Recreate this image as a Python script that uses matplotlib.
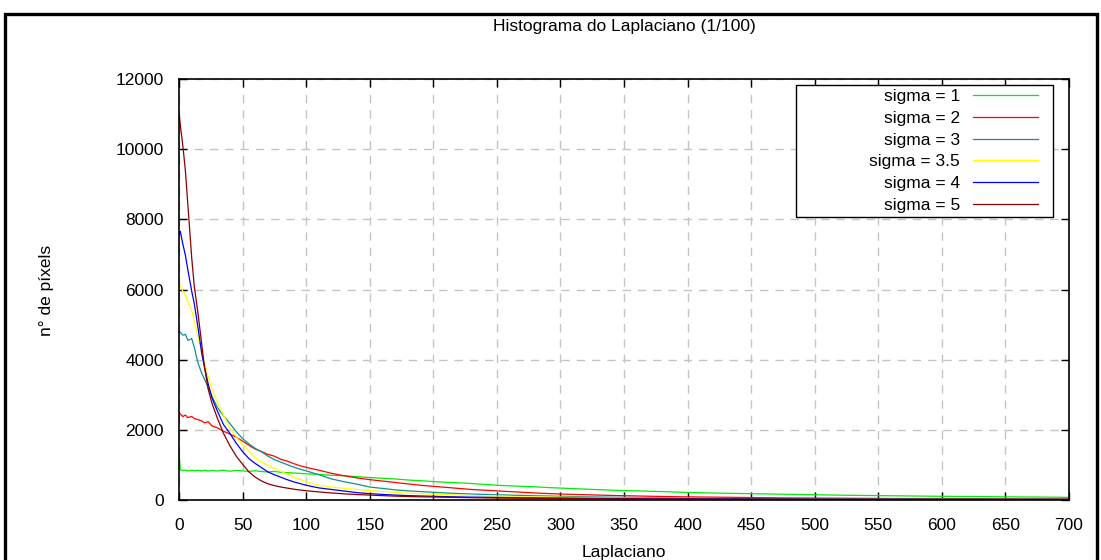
import matplotlib
matplotlib.use("Agg")
import matplotlib.pyplot as plt
from matplotlib.patches import Rectangle

# ──────────────────────────────────────────────
# Data
# ──────────────────────────────────────────────

laplaciano = [0, 1, 3, 5, 7, 10, 12, 15, 18, 20,
              23, 26, 30, 35, 40, 45, 50, 55, 60, 65,
              70, 75, 80, 85, 90, 95, 100, 110, 120, 130,
              140, 150, 160, 170, 180, 190, 200, 210, 220, 230,
              240, 250, 260, 270, 280, 290, 300, 320, 340, 360,
              380, 400, 425, 450, 475, 500, 525, 550, 575, 600,
              625, 650, 675, 700]

sigma_1 = [1400, 860, 840, 855, 830, 850, 835, 845, 830, 850,
           825, 840, 830, 850, 820, 845, 830, 815, 835, 810,
           800, 815, 790, 780, 770, 760, 745, 730, 705, 690,
           665, 640, 620, 600, 570, 550, 525, 505, 490, 470,
           445, 420, 405, 390, 375, 355, 340, 310, 280, 260,
           240, 215, 195, 180, 165, 150, 135, 125, 115, 105,
           100, 90, 85, 75]

sigma_2 = [2500, 2450, 2380, 2420, 2350, 2380, 2320, 2290, 2250, 2200,
           2230, 2110, 2060, 1960, 1880, 1790, 1680, 1560, 1450, 1380,
           1300, 1250, 1160, 1110, 1040, 980, 930, 850, 760, 690,
           630, 580, 540, 500, 460, 420, 390, 360, 330, 300,
           280, 260, 240, 220, 200, 185, 170, 150, 130, 115,
           100, 90, 80, 70, 60, 55, 50, 45, 40, 38,
           35, 32, 30, 28]

sigma_3 = [4800, 4780, 4700, 4720, 4550, 4600, 4350, 3900, 3600, 3450,
           3200, 2950, 2650, 2400, 2180, 1950, 1750, 1600, 1470, 1370,
           1250, 1150, 1080, 1010, 940, 880, 830, 720, 600, 520,
           450, 370, 330, 290, 260, 240, 220, 200, 185, 170,
           160, 150, 140, 130, 120, 115, 105, 90, 80, 70,
           60, 55, 50, 45, 40, 35, 32, 30, 28, 25,
           24, 22, 20, 18]

sigma_35 = [6150, 6100, 5950, 5850, 5650, 5400, 5100, 4650, 4200, 3900,
            3500, 3150, 2800, 2420, 2050, 1800, 1580, 1380, 1200, 1080,
            990, 900, 820, 740, 660, 590, 520, 420, 370, 330,
            300, 270, 240, 215, 195, 180, 165, 150, 140, 130,
            120, 110, 100, 95, 90, 85, 80, 70, 62, 55,
            50, 45, 40, 36, 33, 30, 28, 26, 24, 22,
            20, 19, 18, 16]

sigma_4 = [7550, 7660, 7300, 6980, 6550, 5950, 5600, 4900, 4150, 3800,
           3300, 2900, 2550, 2150, 1900, 1620, 1380, 1180, 1040, 920,
           800, 720, 650, 580, 520, 470, 420, 345, 300, 255,
           210, 180, 160, 140, 125, 115, 105, 95, 88, 82,
           78, 72, 68, 64, 60, 57, 55, 50, 46, 42,
           40, 37, 34, 32, 30, 28, 26, 25, 24, 22,
           21, 20, 19, 18]

sigma_5 = [11050, 10700, 10100, 9400, 8400, 6900, 6100, 5300, 4400, 3800,
           3150, 2750, 2350, 1900, 1550, 1250, 1020, 800, 650, 540,
           460, 410, 370, 340, 310, 285, 265, 230, 200, 175,
           155, 140, 125, 110, 100, 90, 85, 78, 72, 66,
           60, 56, 52, 50, 47, 45, 42, 38, 35, 32,
           30, 28, 26, 25, 24, 23, 22, 21, 20, 19,
           18, 17, 16, 15]

labels = ["sigma = 1", "sigma = 2", "sigma = 3", "sigma = 3.5", "sigma = 4", "sigma = 5"]
colors = ["#00ee00", "#ff0000", "#138f8f", "#ffff00", "#0000ff", "#8b0000"]
series = [sigma_1, sigma_2, sigma_3, sigma_35, sigma_4, sigma_5]

xticks = list(range(0, 701, 50))
yticks = list(range(0, 12001, 2000))

# ──────────────────────────────────────────────
# Figure
# ──────────────────────────────────────────────

plt.rcParams["font.family"] = ["Liberation Sans", "DejaVu Sans"]
FS = 12.5

W, H = 1101, 560
fig = plt.figure(figsize=(W / 100, H / 100), dpi=100)
fig.patch.set_facecolor("white")

# thick outer frame
fig.patches.append(Rectangle((4.5 / W, -0.2), (1096.5 - 4.5) / W, 1.2 - 13.5 / H,
                             transform=fig.transFigure, fill=False,
                             edgecolor="black", linewidth=2.4, clip_on=False))

ax = fig.add_axes([179 / W, (H - 500) / H, 890 / W, 421 / H])

for y, lab, col in zip(series, labels, colors):
    ax.plot(laplaciano, y, color=col, linewidth=0.9, label=lab)

ax.set_xlim(0, 700)
ax.set_ylim(0, 12000)
ax.set_xticks(xticks)
ax.set_yticks(yticks)
ax.tick_params(direction="in", length=6, width=1, top=True, right=True,
               labelsize=FS, pad=11)
ax.tick_params(axis="x", pad=13)
ax.grid(True, color="#c4c4c4", linestyle=(0, (6, 5)), linewidth=1)
ax.set_axisbelow(True)
for sp in ax.spines.values():
    sp.set_linewidth(1.2)

fig.text(624 / W, 1 - 27 / H, "Histograma do Laplaciano (1/100)",
         ha="center", va="center", fontsize=FS)
fig.text(624 / W, 1 - 553 / H, "Laplaciano", ha="center", va="center", fontsize=FS)
fig.text(47 / W, 1 - 290 / H, "n° de píxels", ha="center", va="center",
         rotation=90, fontsize=FS)

# legend: gnuplot-style box, wider than its entries
ax.add_patch(Rectangle((796 / W, 1 - 217 / H), (1053 - 796) / W, (217 - 85) / H,
                       transform=fig.transFigure, facecolor="white",
                       edgecolor="black", linewidth=1.0, zorder=5, clip_on=False))
leg = ax.legend(loc="upper right", bbox_to_anchor=(1038 / W, 1 - 89 / H),
                bbox_transform=fig.transFigure, borderaxespad=0, borderpad=0,
                markerfirst=False, frameon=False,
                fontsize=FS, handlelength=3.75, handletextpad=0.75,
                labelspacing=0.38)
leg.set_zorder(6)

fig.savefig("out.png", dpi=100)
